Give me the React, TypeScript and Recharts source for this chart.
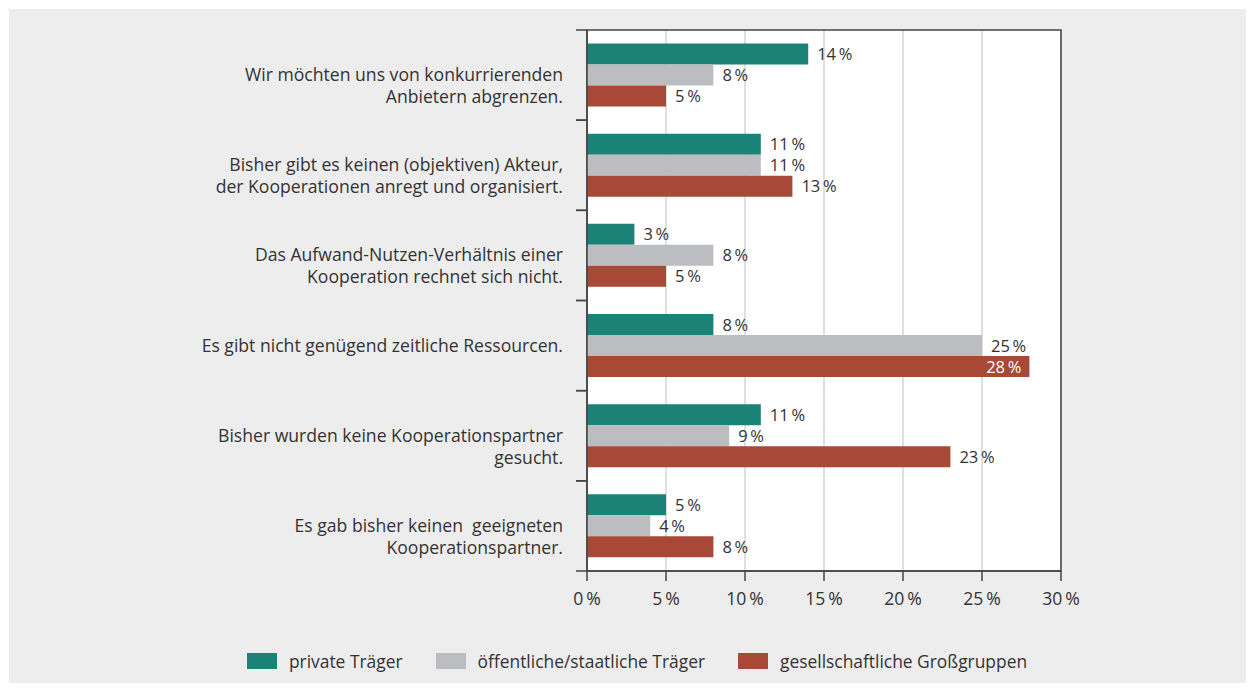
import { BarChart, Bar, XAxis, YAxis, CartesianGrid, LabelList, Legend, ReferenceArea } from 'recharts';

const categories = [
  ['Wir möchten uns von konkurrierenden', 'Anbietern abgrenzen.'],
  ['Bisher gibt es keinen (objektiven) Akteur,', 'der Kooperationen anregt und organisiert.'],
  ['Das Aufwand-Nutzen-Verhältnis einer', 'Kooperation rechnet sich nicht.'],
  ['Es gibt nicht genügend zeitliche Ressourcen.'],
  ['Bisher wurden keine Kooperationspartner', 'gesucht.'],
  ['Es gab bisher keinen  geeigneten', 'Kooperationspartner.'],
];
const privateTraeger = [14, 11, 3, 8, 11, 5];
const oeffentlicheTraeger = [8, 11, 8, 25, 9, 4];
const grossgruppen = [5, 13, 5, 28, 23, 8];
const xTicks = [0, 5, 10, 15, 20, 25, 30];

const series = [
  { key: 'priv', name: 'private Träger', color: '#1b8278' },
  { key: 'oeff', name: 'öffentliche/staatliche Träger', color: '#bcbdc0' },
  { key: 'gross', name: 'gesellschaftliche Großgruppen', color: '#a84836' },
];

const data = categories.map((lines, i) => ({
  label: lines.join('|'),
  priv: privateTraeger[i],
  oeff: oeffentlicheTraeger[i],
  gross: grossgruppen[i],
}));

const FONT = '"Open Sans", Lato, sans-serif';
const W = 1238;
const H = 674;
const M = { top: 21, right: 186, bottom: 7, left: 0 };
const PLOT_H = 541;
const fmt = (v: number) => `${v}\u2009%`;

function CategoryTick(props: any) {
  const { x, y, payload } = props;
  const lines = String(payload.value).split('|');
  const half = PLOT_H / categories.length / 2;
  const ax = x + 24;
  return (
    <g>
      <line x1={ax - 11} x2={ax} y1={y - half} y2={y - half} stroke="#444" strokeWidth={1.5} />
      <line x1={ax - 11} x2={ax} y1={y + half} y2={y + half} stroke="#444" strokeWidth={1.5} />
      <text x={x} y={y} textAnchor="end" fill="#333" fontSize={17.6} fontFamily={FONT} style={{ whiteSpace: 'pre' }}>
        {lines.map((l, i) => (
          <tspan key={i} x={x} dy={i === 0 ? 6 : 22}>{l}</tspan>
        ))}
      </text>
    </g>
  );
}

function ValueLabel(props: any) {
  const { x, y, width, height, value } = props;
  const inside = value > 26;
  return (
    <text
      x={inside ? x + width - 8 : x + width + 9}
      y={y + height / 2 + 6}
      textAnchor={inside ? 'end' : 'start'}
      fill={inside ? '#fff' : '#333'}
      fontSize={16.5}
      fontFamily={FONT}
    >
      {fmt(value)}
    </text>
  );
}

function LegendBox() {
  return (
    <div style={{ display: 'flex', justifyContent: 'center', alignItems: 'center', height: 30, fontFamily: FONT, fontSize: 17.4, color: '#333', paddingLeft: 18 }}>
      {series.map((s, i) => (
        <div key={s.key} style={{ display: 'flex', alignItems: 'center', marginLeft: i === 0 ? 0 : 33 }}>
          <span style={{ display: 'inline-block', width: 30, height: 16, background: s.color, marginRight: 12 }} />
          <span>{s.name}</span>
        </div>
      ))}
    </div>
  );
}

export default function App() {
  return (
    <div style={{ width: W, height: H, background: '#ededed', marginTop: 1, marginLeft: 1 }}>
      <BarChart width={W} height={H} data={data} layout="vertical" margin={M} barCategoryGap="15%" barGap={0}>
        <CartesianGrid horizontal={false} stroke="#d4d4d4" fill="#fff" strokeWidth={1.5} />
        <XAxis
          type="number"
          domain={[0, 30]}
          ticks={xTicks}
          tickFormatter={fmt}
          axisLine={{ stroke: '#444', strokeWidth: 1.5 }}
          tickLine={{ stroke: '#444', strokeWidth: 1.5 }}
          tickSize={10}
          tickMargin={12}
          height={75}
          tick={{ fill: '#333', fontSize: 17.6, fontFamily: FONT }}
        />
        <YAxis
          type="category"
          dataKey="label"
          width={578}
          axisLine={{ stroke: '#444', strokeWidth: 1.5 }}
          tickLine={false}
          tickSize={0}
          tickMargin={24}
          tick={<CategoryTick />}
          interval={0}
        />
        <ReferenceArea x1={0} x2={30} fill="none" stroke="#444" strokeWidth={1.5} ifOverflow="visible" />
        {series.map((s) => (
          <Bar key={s.key} dataKey={s.key} name={s.name} fill={s.color} isAnimationActive={false}>
            <LabelList dataKey={s.key} content={<ValueLabel />} />
          </Bar>
        ))}
        <Legend verticalAlign="bottom" content={<LegendBox />} wrapperStyle={{ left: 0, width: W }} />
      </BarChart>
    </div>
  );
}
